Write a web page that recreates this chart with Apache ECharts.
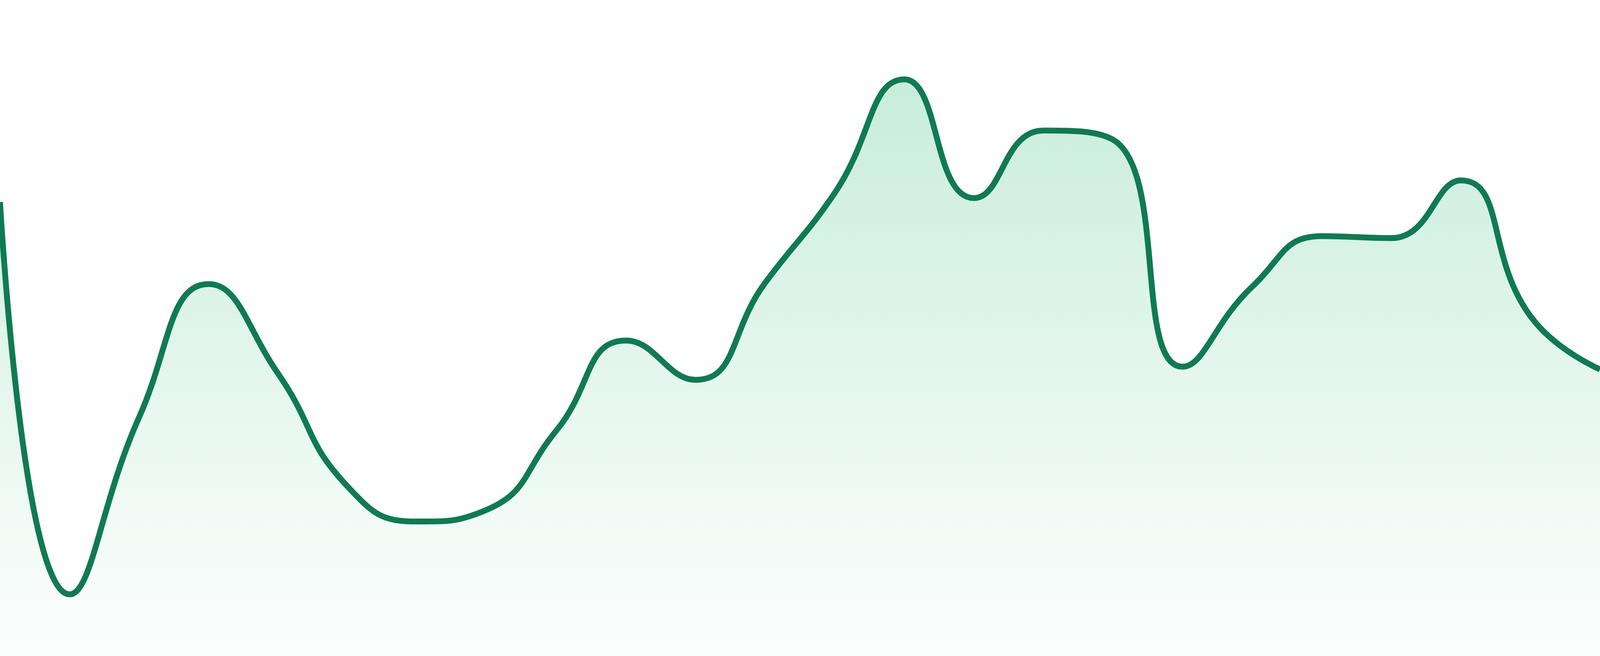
<!DOCTYPE html>
<html>
<head>
<meta charset="utf-8">
<script src="https://cdn.jsdelivr.net/npm/echarts@6/dist/echarts.min.js"></script>
<style>
html,body{margin:0;padding:0;background:#ffffff;overflow:hidden;width:100%;height:100%;}
#chart{width:100vw;height:100vh;}
</style>
</head>
<body>
<div id="chart"></div>
<script>
var categories = ['00:00','01:00','02:00','03:00','04:00','05:00','06:00','07:00','08:00','09:00','10:00','11:00',
                  '12:00','13:00','14:00','15:00','16:00','17:00','18:00','19:00','20:00','21:00','22:00','23:00'];
var values = [69.2, 9.4, 36.4, 56.7, 43.0, 25.8, 20.5, 22.3, 34.4, 48.1, 42.1, 56.9,
              70.6, 87.9, 69.8, 80.1, 78.7, 44.1, 56.3, 64.0, 63.7, 72.5, 51.8, 43.7];
var yMin = 0;
var yMax = 100;

var dpr = window.devicePixelRatio || 1;
var el = document.getElementById('chart');
var chart = echarts.init(el);
chart.setOption({
  animation: false,
  backgroundColor: '#ffffff',
  grid: {left: 0, right: 0, top: 0, bottom: 0, containLabel: false},
  xAxis: {
    type: 'category',
    data: categories,
    boundaryGap: false,
    show: false
  },
  yAxis: {
    type: 'value',
    min: yMin,
    max: yMax,
    show: false
  },
  series: [{
    type: 'line',
    data: values,
    smooth: true,
    symbol: 'none',
    lineStyle: {color: '#107a52', width: 15 / dpr},
    itemStyle: {color: '#107a52'},
    areaStyle: {
      color: new echarts.graphic.LinearGradient(0, 0, 0, 1, [
        {offset: 0, color: 'rgba(16,175,104,0.33)'},
        {offset: 0.5, color: 'rgba(16,175,104,0.165)'},
        {offset: 0.75, color: 'rgba(16,175,104,0.085)'},
        {offset: 1, color: 'rgba(16,175,104,0.02)'}
      ])
    }
  }]
});
window.addEventListener('resize', function(){ chart.resize(); });
</script>
</body>
</html>
